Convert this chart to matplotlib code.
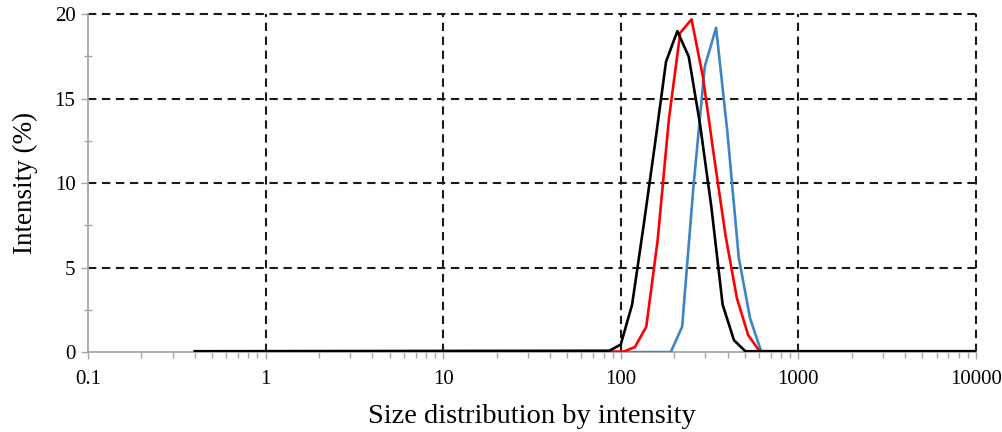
import matplotlib
matplotlib.use("Agg")
import matplotlib.pyplot as plt
from matplotlib.ticker import MultipleLocator, LogLocator, FixedLocator, FixedFormatter, NullFormatter

# size classes (nm) and intensity (%)
blue_size = [0.4, 191.3, 221.6, 256.6, 297.2, 344.2, 398.6, 461.7, 534.7, 619.3, 10000]
blue_int = [0, 0, 1.5, 9.8, 16.9, 19.2, 13.0, 5.6, 2.0, 0, 0]

red_size = [0.4, 103.8, 120.2, 139.2, 161.2, 186.7, 216.2, 250.4, 290.0, 335.9,
            389.0, 450.6, 521.8, 604.4, 10000]
red_int = [0.03, 0.03, 0.3, 1.5, 6.6, 13.8, 18.9, 19.7, 16.3, 11.5, 6.9, 3.2, 1.0, 0.05, 0.05]

black_size = [0.4, 86.3, 100.0, 115.8, 134.1, 155.3, 179.9, 208.3, 241.3, 279.4,
              323.6, 374.8, 434.1, 502.7, 10000]
black_int = [0.05, 0.08, 0.45, 2.8, 7.4, 12.2, 17.2, 19.0, 17.5, 13.5, 8.6, 2.8, 0.7, 0.05, 0.05]

x_ticks = [0.1, 1, 10, 100, 1000, 10000]
x_labels = ["0.1", "1", "10", "100", "1000", "10000"]
y_ticks = [0, 5, 10, 15, 20]

plt.rcParams['font.family'] = ['Liberation Serif', 'DejaVu Serif']

fig = plt.figure(figsize=(10.02, 4.32), dpi=100)
ax = fig.add_axes([0.0878, 0.185, 0.8862, 0.782])

ax.plot(blue_size, blue_int, color='#3d85c6', lw=1.9, zorder=3)
ax.plot(red_size, red_int, color='#ff0000', lw=1.9, zorder=4)
ax.plot(black_size, black_int, color='black', lw=1.9, zorder=5)

ax.set_xscale('log')
ax.set_xlim(0.1, 10000)
ax.set_ylim(0, 20)

ax.xaxis.set_major_locator(FixedLocator(x_ticks))
ax.xaxis.set_major_formatter(FixedFormatter(x_labels))
ax.xaxis.set_minor_locator(LogLocator(base=10, subs=range(2, 10)))
ax.xaxis.set_minor_formatter(NullFormatter())
ax.yaxis.set_major_locator(FixedLocator(y_ticks))
ax.yaxis.set_minor_locator(MultipleLocator(2.5))

# dashed grid, skipping the lines on the left and bottom spines
dash = (0, (4, 2.7))
for v in x_ticks[1:]:
    ax.axvline(v, color='#1a1a1a', lw=1.5, ls=dash, clip_on=False, zorder=2)
for v in y_ticks[1:]:
    ax.axhline(v, color='#1a1a1a', lw=1.5, ls=dash, clip_on=False, zorder=2)

for s in ['top', 'right']:
    ax.spines[s].set_visible(False)
for s in ['left', 'bottom']:
    ax.spines[s].set_color('#a6a6a6')
    ax.spines[s].set_linewidth(1.3)

ax.tick_params(axis='both', which='major', color='#a6a6a6', width=1.0, length=5,
               labelsize=15, direction='out', pad=4)
ax.tick_params(axis='y', which='minor', color='#a6a6a6', width=1.0, length=6,
               direction='inout')
ax.tick_params(axis='x', which='minor', color='#a6a6a6', width=1.0, length=4,
               direction='out')
ax.tick_params(axis='x', which='major', pad=8)

ax.set_xlabel('Size distribution by intensity', fontsize=20.5, labelpad=11)
ax.set_ylabel('Intensity (%)', fontsize=19.5, labelpad=12)

fig.savefig('out.png', dpi=100)
